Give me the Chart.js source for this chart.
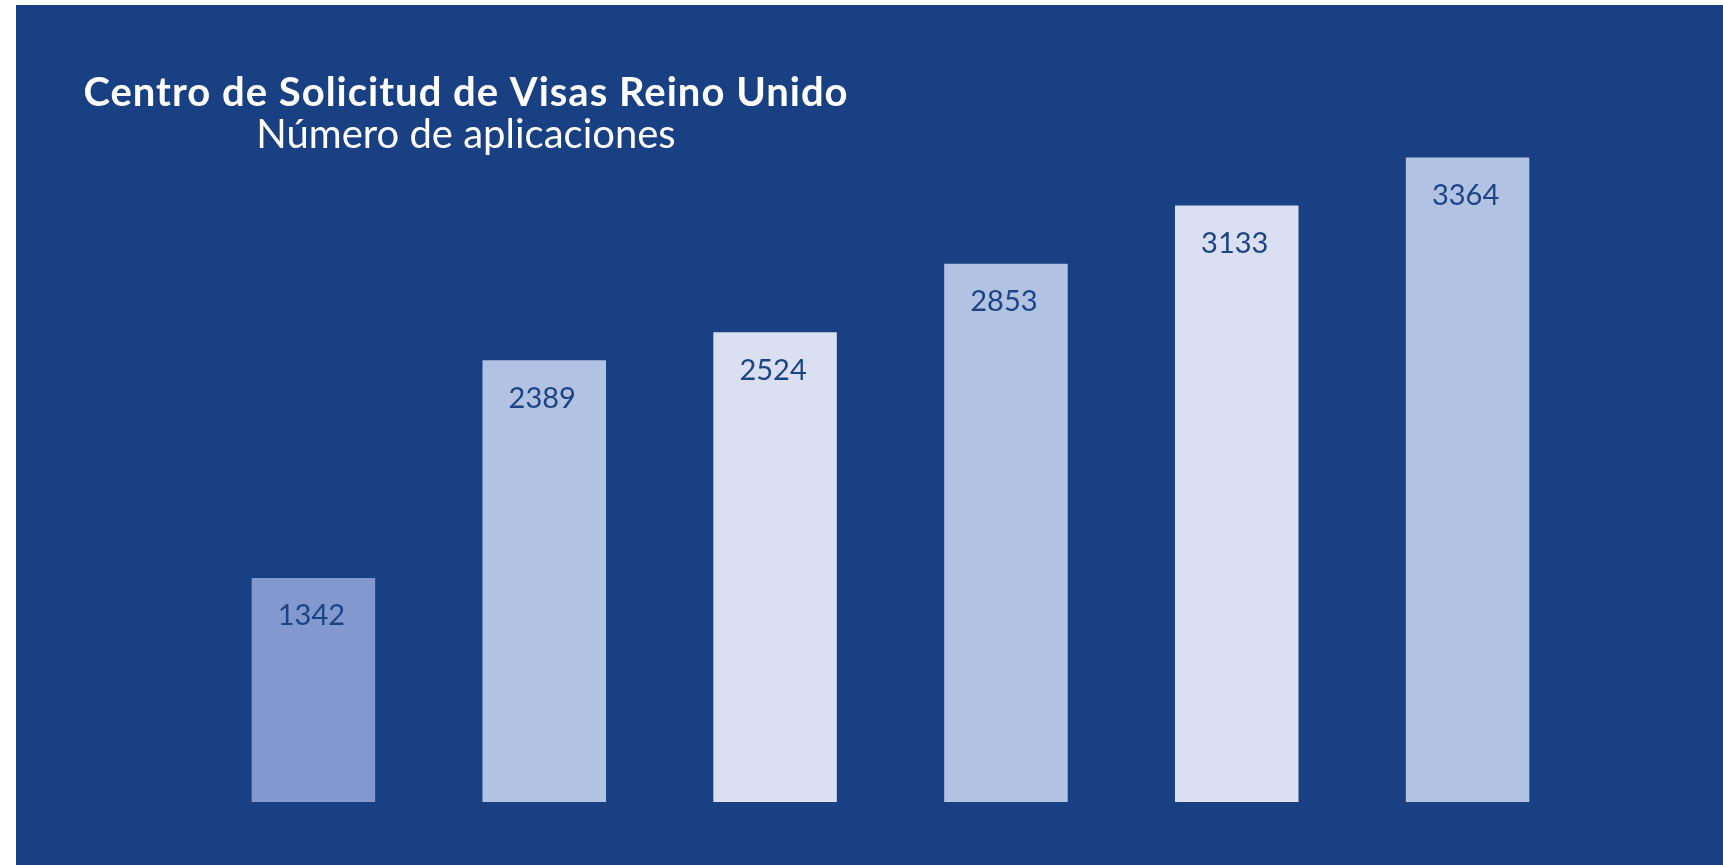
<!DOCTYPE html>
<html><head><meta charset="utf-8">
<script src="https://cdn.jsdelivr.net/npm/chart.js@4/dist/chart.umd.min.js"></script>
<style>html,body{margin:0;padding:0;background:#fff;overflow:hidden}#wrap{width:1723px;height:865px;position:relative}</style>
</head><body><div id="wrap"><canvas id="c"></canvas></div>
<script>
const categories = ['1', '2', '3', '4', '5', '6'];
const applications = [1342, 2389, 2524, 2853, 3133, 3364];
const barColors = ['#8299cf', '#b2c2e3', '#dae0f1', '#b2c2e3', '#dae0f1', '#b2c2e3'];
const titleText = 'Centro de Solicitud de Visas Reino Unido';
const subtitleText = 'Número de aplicaciones';

const BG = '#194083';

const panelPlugin = {
  id: 'panel',
  beforeDraw(chart) {
    const ctx = chart.ctx, w = chart.width, h = chart.height;
    ctx.save();
    ctx.fillStyle = '#ffffff';
    ctx.fillRect(0, 0, w, h);
    ctx.fillStyle = BG;
    ctx.fillRect(16, 5, w - 16, h - 5);
    ctx.restore();
  }
};

const textPlugin = {
  id: 'texts',
  afterDatasetsDraw(chart) {
    const ctx = chart.ctx;
    ctx.save();
    // value labels inside bar tops
    const meta = chart.getDatasetMeta(0);
    ctx.fillStyle = '#1c4384';
    ctx.font = '29px Lato, "Open Sans", sans-serif';
    ctx.textAlign = 'center';
    ctx.textBaseline = 'middle';
    meta.data.forEach((bar, i) => {
      ctx.fillText(String(applications[i]), bar.x - 2, bar.y + 38);
    });
    // title
    ctx.fillStyle = '#ffffff';
    ctx.textBaseline = 'alphabetic';
    ctx.font = 'bold 40px Lato, "Open Sans", sans-serif';
    try { ctx.letterSpacing = '1px'; } catch (e) {}
    ctx.fillText(titleText, 466, 106);
    try { ctx.letterSpacing = '0px'; } catch (e) {}
    ctx.font = '40px Lato, "Open Sans", sans-serif';
    ctx.fillText(subtitleText, 466, 148);
    ctx.restore();
  }
};

new Chart(document.getElementById('c'), {
  type: 'bar',
  data: {
    labels: categories,
    datasets: [{
      data: applications,
      backgroundColor: barColors,
      borderWidth: 0,
      barPercentage: 0.535,
      categoryPercentage: 1.0
    }]
  },
  options: {
    responsive: true,
    maintainAspectRatio: false,
    animation: false,
    layout: { padding: { left: 198, right: 140, top: 100, bottom: 63 } },
    plugins: { legend: { display: false }, tooltip: { enabled: false }, title: { display: false } },
    scales: {
      x: { display: false, offset: true, grid: { display: false } },
      y: { display: false, min: 264, max: 3641, grid: { display: false } }
    }
  },
  plugins: [panelPlugin, textPlugin]
});
</script>
</body></html>
